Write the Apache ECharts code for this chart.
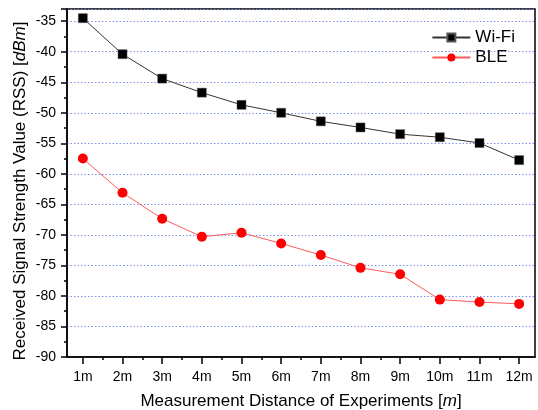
<!DOCTYPE html>
<html><head><meta charset="utf-8">
<script src="https://cdn.jsdelivr.net/npm/echarts@6/dist/echarts.min.js"></script>
<style>html,body{margin:0;padding:0;background:#fff}#c{width:538px;height:410px}</style>
</head><body><div id="c"></div>
<script>
var distances = [1,2,3,4,5,6,7,8,9,10,11,12];
var wifi = [-34.5,-40.4,-44.4,-46.7,-48.7,-50.0,-51.4,-52.4,-53.5,-54.0,-54.95,-57.75];
var ble = [-57.5,-63.1,-67.35,-70.3,-69.65,-71.4,-73.3,-75.4,-76.45,-80.6,-81.0,-81.3];
var minorX = [1.5,2.5,3.5,4.5,5.5,6.5,7.5,8.5,9.5,10.5,11.5];

var font = '"Liberation Sans", Arial, sans-serif';
var chart = echarts.init(document.getElementById('c'));
chart.setOption({
  animation:false,
  grid:{left:67,top:9,right:3,bottom:53,outerBoundsMode:'none',containLabel:false,show:true,borderColor:'#000',borderWidth:1.5,backgroundColor:'transparent'},
  legend:{
    top:24,right:18,orient:'vertical',itemGap:3,itemWidth:38,itemHeight:10,
    textStyle:{fontFamily:font,fontSize:17,color:'#000'},
    data:['Wi-Fi','BLE']
  },
  graphic:[{
    type:'text',x:20,y:191,rotation:Math.PI/2,
    style:{
      text:'{a|Received Signal Strength Value (RSS) [}{b|dBm}{a|]}',
      align:'center',verticalAlign:'middle',
      rich:{a:{fontFamily:font,fontSize:17,fill:'#000'},b:{fontFamily:font,fontSize:17,fontStyle:'italic',fill:'#000'}}
    }
  }],
  xAxis:[{
    type:'value',min:0.6,max:12.4,
    axisLine:{show:true,lineStyle:{color:'#000',width:1.5}},
    axisTick:{show:true,customValues:distances,length:7,lineStyle:{color:'#000',width:1.5}},
    axisLabel:{customValues:distances,formatter:function(v){return v+'m';},fontFamily:font,fontSize:14,color:'#000',margin:13},
    splitLine:{show:false},
    name:'{a|Measurement Distance of Experiments [}{b|m}{a|]}',
    nameLocation:'middle',nameGap:36,
    nameTextStyle:{rich:{a:{fontFamily:font,fontSize:17,color:'#000'},b:{fontFamily:font,fontSize:17,fontStyle:'italic',color:'#000'}}}
  },{
    type:'value',min:0.6,max:12.4,position:'bottom',
    axisLine:{show:false},
    axisTick:{show:true,customValues:minorX,length:3,lineStyle:{color:'#000',width:1.5}},
    axisLabel:{show:false},splitLine:{show:false}
  }],
  yAxis:{
    type:'value',min:-90,max:-33,interval:5,
    axisLine:{show:true,lineStyle:{color:'#000',width:1.5}},
    axisTick:{show:true,length:6,lineStyle:{color:'#000',width:1.5}},
    minorTick:{show:true,splitNumber:2,length:3,lineStyle:{color:'#000',width:1.5}},
    axisLabel:{fontFamily:font,fontSize:14,color:'#000',margin:11,showMaxLabel:false,
      formatter:function(v){return (v%5===0)?String(v):'';}},
    splitLine:{show:true,lineStyle:{color:'#7a8ff0',type:[1.5,2],width:1}}
  },
  series:[{
    name:'Wi-Fi',type:'line',
    data:distances.map(function(d,i){return [d,wifi[i]];}),
    symbol:'rect',symbolSize:9,
    lineStyle:{color:'#333',width:1},
    itemStyle:{color:'#000',borderColor:'#555',borderWidth:0.5},
    z:3
  },{
    name:'BLE',type:'line',
    data:distances.map(function(d,i){return [d,ble[i]];}),
    symbol:'circle',symbolSize:10,
    lineStyle:{color:'#ff5a5a',width:1},
    itemStyle:{color:'#ff0000',borderColor:'#ff0000',borderWidth:0},
    z:2
  }]
});
</script></body></html>
